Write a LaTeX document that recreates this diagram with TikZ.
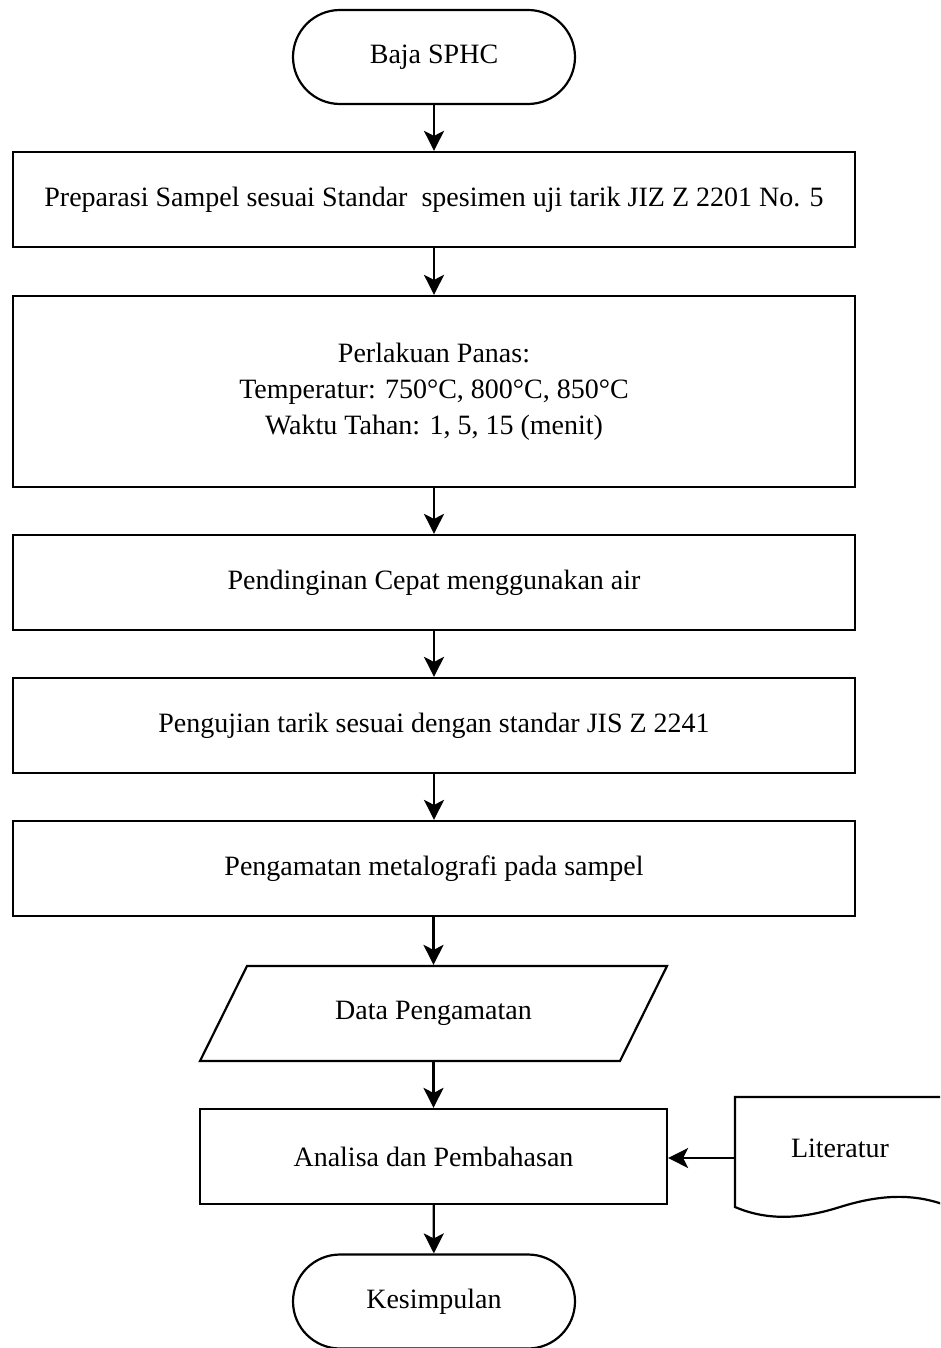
\documentclass[tikz,border=0pt]{standalone}
\usepackage{fontspec}
\setmainfont{Liberation Serif}
\usetikzlibrary{arrows.meta}
\begin{document}
\begin{tikzpicture}[x=1pt,y=-1pt, line width=2.2pt,
  every node/.style={font=\fontsize{28}{36}\selectfont},
  proc/.style={draw, rectangle, inner sep=0pt, align=center},
  term/.style={draw, rectangle, rounded corners=47pt, minimum width=282pt, minimum height=94pt, inner sep=0pt},
  ghost/.style={rectangle, inner sep=0pt},
  arr/.style={-{Stealth[length=20pt,width=20pt,inset=5pt]}}]
\useasboundingbox (0,0) rectangle (940,1348);
\fill[white] (0,0) rectangle (940,1348);
\clip (0,0) rectangle (940,1348);
\node[term] (start) at (434,57) {Baja SPHC};
\node[proc, minimum width=842pt, minimum height=95pt] (prep) at (434,199.5) {Preparasi Sampel sesuai Standar~ spesimen uji tarik JIZ Z 2201 No. 5};
\node[proc, minimum width=842pt, minimum height=191pt] (heat) at (434,391.5) {Perlakuan Panas:\\Temperatur: 750°C, 800°C, 850°C\\Waktu Tahan: 1, 5, 15 (menit)};
\node[proc, minimum width=842pt, minimum height=95pt] (cool) at (434,582.5) {Pendinginan Cepat menggunakan air};
\node[proc, minimum width=842pt, minimum height=95pt] (tarik) at (434,725.5) {Pengujian tarik sesuai dengan standar JIS Z 2241};
\node[proc, minimum width=842pt, minimum height=95pt] (metal) at (434,868.5) {Pengamatan metalografi pada sampel};
\node[ghost, minimum width=420pt, minimum height=95pt] (data) at (433.5,1013.5) {Data Pengamatan};
\draw (247,966) -- (667,966) -- (620,1061) -- (200,1061) -- cycle;
\node[proc, minimum width=467pt, minimum height=95pt] (anal) at (433.5,1156.5) {Analisa dan Pembahasan};
\node[ghost, minimum width=210pt, minimum height=122pt] (lit) at (840,1158) {};
\node at (840,1148) {Literatur};
\draw (945,1097) -- (735,1097) -- (735,1207)
  .. controls (770,1222) and (805,1218) .. (840,1207)
  .. controls (875,1196) and (910,1192) .. (945,1205);
\node[term] (end) at (434,1301.5) {Kesimpulan};
\draw[arr] (start) -- (prep);
\draw[arr] (prep) -- (heat);
\draw[arr] (heat) -- (cool);
\draw[arr] (cool) -- (tarik);
\draw[arr] (tarik) -- (metal);
\draw[arr] (metal.south -| data.north) -- (data.north);
\draw[arr] (data) -- (anal);
\draw[arr] (anal) -- (end);
\draw[arr] (lit.west) -- (anal.east |- lit.west);
\end{tikzpicture}
\end{document}
